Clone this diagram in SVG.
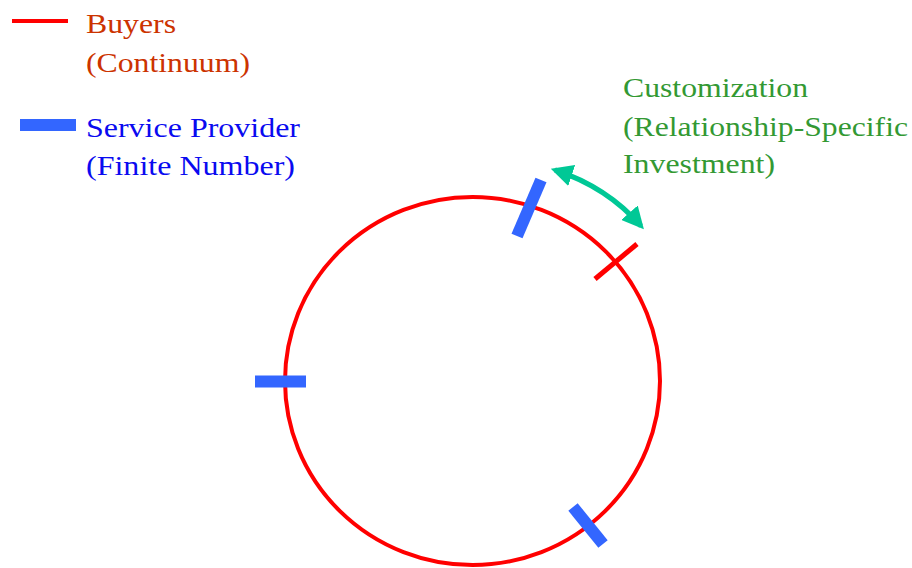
<svg xmlns="http://www.w3.org/2000/svg" width="912" height="568" viewBox="0 0 912 568">
<style>
.t{font-family:"Liberation Serif","Times New Roman",serif;font-size:28px}
.buy{fill:#CC3300}
.sp{fill:#0A0AF0}
.cu{fill:#339933}
.prov{stroke:#3366FF;stroke-width:12;fill:none}
.red{stroke:#FF0000;fill:none}
</style>
<defs>
<marker id="ah" viewBox="0 0 10 10" refX="8" refY="5" markerWidth="4.4" markerHeight="4.4" orient="auto-start-reverse" markerUnits="strokeWidth">
<path d="M0,0 L10,5 L0,10 z" fill="#00C896"/>
</marker>
</defs>
<g id="legend-buyers">
<line class="red" x1="12" y1="21" x2="68" y2="21" stroke-width="4"/>
<text class="t buy" x="86" y="33" textLength="90" lengthAdjust="spacingAndGlyphs">Buyers</text>
<text class="t buy" x="86" y="72" textLength="164" lengthAdjust="spacingAndGlyphs">(Continuum)</text>
</g>
<g id="legend-provider">
<line class="prov" x1="20" y1="125" x2="76" y2="125"/>
<text class="t sp" x="86" y="137" textLength="214" lengthAdjust="spacingAndGlyphs">Service Provider</text>
<text class="t sp" x="86" y="175" textLength="209" lengthAdjust="spacingAndGlyphs">(Finite Number)</text>
</g>
<g id="label-customization">
<text class="t cu" x="623" y="97" textLength="185" lengthAdjust="spacingAndGlyphs">Customization</text>
<text class="t cu" x="623" y="136" textLength="285" lengthAdjust="spacingAndGlyphs">(Relationship-Specific</text>
<text class="t cu" x="623" y="173" textLength="152" lengthAdjust="spacingAndGlyphs">Investment)</text>
</g>
<g id="circle">
<ellipse class="red" cx="472.5" cy="381" rx="187.5" ry="184" stroke-width="4"/>
</g>
<g id="buyer-tick">
<line class="red" x1="637" y1="244" x2="595" y2="279" stroke-width="5"/>
</g>
<g id="provider-top"><line class="prov" x1="541" y1="180" x2="517" y2="236"/></g>
<g id="provider-left"><line class="prov" x1="255" y1="381.5" x2="306" y2="381.5"/></g>
<g id="provider-bottom"><line class="prov" x1="573" y1="507" x2="603" y2="544"/></g>
<g id="connectors">
<path d="M555,170 Q607,187 641,226" fill="none" stroke="#00C896" stroke-width="5" marker-start="url(#ah)" marker-end="url(#ah)"/>
</g>
</svg>
